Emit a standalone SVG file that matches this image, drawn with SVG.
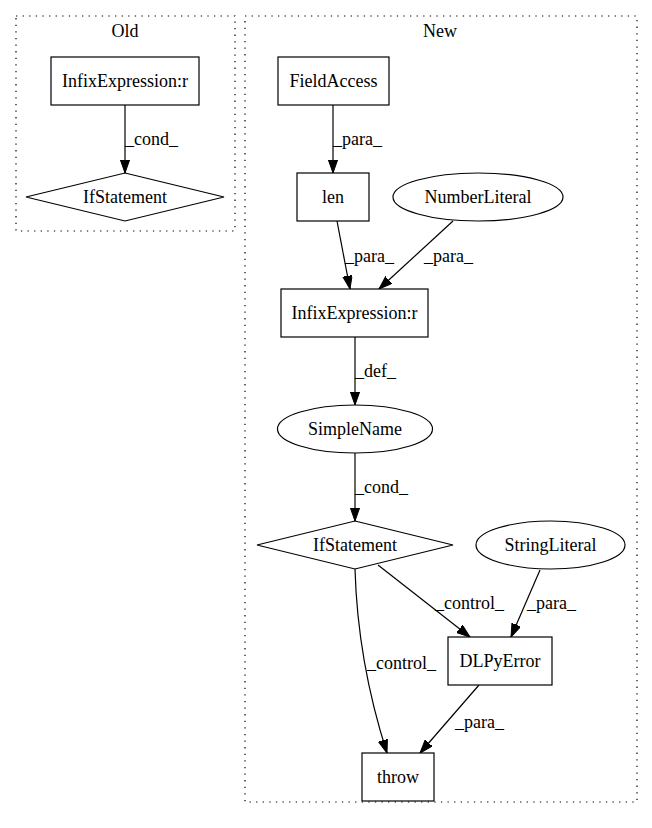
<svg xmlns="http://www.w3.org/2000/svg" width="652" height="828" viewBox="0 0 652 828">
<style>
text{font-family:"Liberation Serif","Times New Roman",serif;font-size:18px;fill:#000}
.c{text-anchor:middle}
.n{fill:#fff;stroke:#000;stroke-width:1.2}
.cl{fill:none;stroke:#000;stroke-width:1.2;stroke-dasharray:1.3,5.3}
.e{fill:none;stroke:#000;stroke-width:1.2;marker-end:url(#arr)}
</style>
<defs>
<marker id="arr" markerWidth="14" markerHeight="10" refX="13.3" refY="4.7" orient="auto" markerUnits="userSpaceOnUse">
<path d="M0,0 L13.3,4.7 L0,9.4 z" fill="#000" stroke="#000" stroke-width="1"/>
</marker>
</defs>
<rect width="652" height="828" fill="#fff"/>
<g id="cluster_old">
<rect class="cl" x="16" y="16" width="219" height="215"/>
<text class="c" x="125" y="37">Old</text>
</g>
<g id="cluster_new">
<rect class="cl" x="245" y="16" width="392" height="786"/>
<text class="c" x="440" y="37">New</text>
</g>
<g id="edges">
<path class="e" d="M125,105 L125,173"/>
<text x="125" y="145">_cond_</text>
<path class="e" d="M333,105 L333,173"/>
<text x="333" y="145">_para_</text>
<path class="e" d="M337,221 L350,289"/>
<text x="345" y="262">_para_</text>
<path class="e" d="M453,221 L379,289"/>
<text x="424" y="262">_para_</text>
<path class="e" d="M355,337 L355,405"/>
<text x="355" y="377">_def_</text>
<path class="e" d="M355,453 L355,521"/>
<text x="355" y="493">_cond_</text>
<path class="e" d="M378,565 L470,637"/>
<text x="435" y="609">_control_</text>
<path class="e" d="M540,570 L511,637"/>
<text x="527" y="609">_para_</text>
<path class="e" d="M355,569 C357,640 370,700 387,753"/>
<text x="367" y="669">_control_</text>
<path class="e" d="M479,685 L420,753"/>
<text x="455" y="728">_para_</text>
</g>
<g id="old_infix">
<rect class="n" x="51" y="57" width="148" height="48"/>
<text class="c" x="125" y="87">InfixExpression:r</text>
</g>
<g id="old_if">
<polygon class="n" points="125,173 224,197 125,221 26,197"/>
<text class="c" x="125" y="203">IfStatement</text>
</g>
<g id="fieldaccess">
<rect class="n" x="278" y="57" width="111" height="48"/>
<text class="c" x="333.5" y="87">FieldAccess</text>
</g>
<g id="len">
<rect class="n" x="297" y="173" width="72" height="48"/>
<text class="c" x="333" y="203">len</text>
</g>
<g id="numberliteral">
<ellipse class="n" cx="478" cy="197" rx="85" ry="24"/>
<text class="c" x="478" y="203">NumberLiteral</text>
</g>
<g id="new_infix">
<rect class="n" x="281" y="289" width="147" height="48"/>
<text class="c" x="354.5" y="319">InfixExpression:r</text>
</g>
<g id="simplename">
<ellipse class="n" cx="355" cy="429" rx="77.5" ry="24"/>
<text class="c" x="355" y="435">SimpleName</text>
</g>
<g id="new_if">
<polygon class="n" points="355,521 453,545 355,569 257,545"/>
<text class="c" x="355" y="551">IfStatement</text>
</g>
<g id="stringliteral">
<ellipse class="n" cx="550.5" cy="545" rx="74.5" ry="24"/>
<text class="c" x="550.5" y="551">StringLiteral</text>
</g>
<g id="dlpyerror">
<rect class="n" x="448" y="637" width="104" height="48"/>
<text class="c" x="500" y="667">DLPyError</text>
</g>
<g id="throw">
<rect class="n" x="362" y="753" width="72" height="48"/>
<text class="c" x="398" y="783">throw</text>
</g>
</svg>
